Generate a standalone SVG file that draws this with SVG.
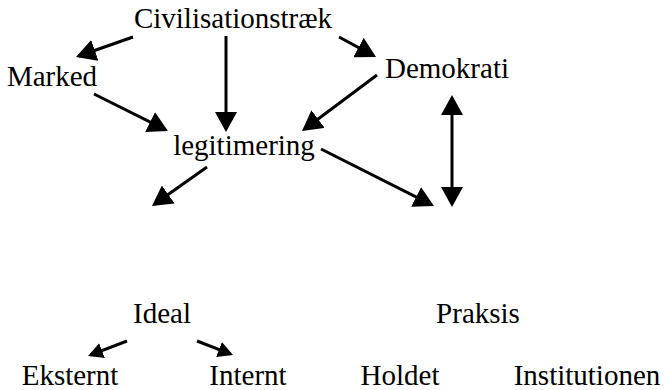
<svg xmlns="http://www.w3.org/2000/svg" width="665" height="390" viewBox="0 0 665 390">
<style>
text{font-family:"Liberation Serif","Times New Roman",serif;font-size:29px;fill:#000;text-anchor:middle}
.c line{stroke:#000;stroke-width:3;fill:none}
.big{marker-end:url(#ah)}
.sm{marker-end:url(#as)}
</style>
<defs>
<marker id="ah" markerUnits="userSpaceOnUse" viewBox="0 0 20 22" markerWidth="20" markerHeight="22" refX="17" refY="11" orient="auto-start-reverse"><path d="M0,0 L20,11 L0,22 z" fill="#000"/></marker>
<marker id="as" markerUnits="userSpaceOnUse" viewBox="0 0 15 16" markerWidth="15" markerHeight="16" refX="12" refY="8" orient="auto"><path d="M0,0 L15,8 L0,16 z" fill="#000"/></marker>
</defs>
<rect width="665" height="390" fill="#fff"/>
<g id="civ"><text x="233" y="28">Civilisationstræk</text></g>
<g id="marked"><text x="52" y="86">Marked</text></g>
<g id="demokrati"><text x="447" y="78">Demokrati</text></g>
<g id="legitimering"><text x="244" y="155">legitimering</text></g>
<g id="ideal"><text x="162" y="323">Ideal</text></g>
<g id="praksis"><text x="478" y="323">Praksis</text></g>
<g id="eksternt"><text x="70" y="385">Eksternt</text></g>
<g id="internt"><text x="248" y="385">Internt</text></g>
<g id="holdet"><text x="400" y="385">Holdet</text></g>
<g id="institutionen"><text x="587" y="385">Institutionen</text></g>
<g id="connectors" class="c">
<line class="big" x1="133" y1="37" x2="78.8" y2="56"/>
<line class="big" x1="226" y1="36" x2="226" y2="129"/>
<line class="big" x1="94" y1="94" x2="165.3" y2="129.7"/>
<line class="big" x1="377" y1="75" x2="304.4" y2="129.2"/>
<line class="big" x1="339" y1="37" x2="373.4" y2="55.6"/>
<line x1="452" y1="98" x2="452" y2="204" marker-start="url(#ah)" marker-end="url(#ah)"/>
<line class="big" x1="321" y1="149" x2="431.3" y2="204.7"/>
<line class="big" x1="207" y1="167" x2="154.4" y2="204.3"/>
<line class="sm" x1="127" y1="341" x2="90.8" y2="354.9"/>
<line class="sm" x1="197" y1="341" x2="230.2" y2="353.9"/>
</g>
</svg>
